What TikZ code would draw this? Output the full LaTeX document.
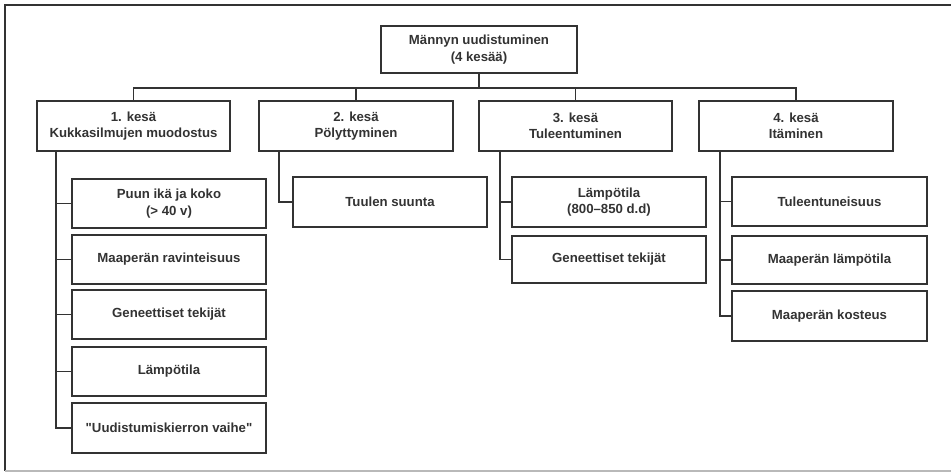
\documentclass[tikz,border=0pt]{standalone}
\usepackage{fontspec}
\setmainfont{Liberation Sans}[Ligatures=TeXOff]
\definecolor{ink}{HTML}{333333}
\tikzset{
  box/.style={draw=ink, line width=1.5pt, fill=white, inner sep=0pt, outer sep=0pt,
    align=center, text=ink, font=\fontsize{13.2}{16.5}\selectfont\bfseries},
  conn/.style={draw=ink, line width=1.5pt},
}
\newcommand{\bx}[7]{% name, x1, y1, x2, y2, text
  \node[box, minimum width={#4-#2}, minimum height={#5-#3}] (#1) at ({(#2+#4)/2},{(#3+#5)/2}) {#6};}
\begin{document}
\begin{tikzpicture}[x=1pt,y=-1pt]
\useasboundingbox (0,0) rectangle (951,473);
\draw[ink, line width=2pt] (955,5) -- (5,5) -- (5,471);
\draw[gray!55, line width=1.5pt] (5,471) -- (955,471);
\bx{root}{381}{26}{577}{73}{Männyn uudistuminen\\(4 kesää)}{}
\bx{b1}{37}{101}{230}{151}{1. kesä\\Kukkasilmujen muodostus}{}
\bx{b2}{259}{101}{453}{151}{2. kesä\\Pölyttyminen}{}
\bx{b3}{479}{101}{672}{151}{3. kesä\\Tuleentuminen}{}
\bx{b4}{699}{101}{893}{151}{4. kesä\\Itäminen}{}
\bx{c11}{72}{179}{266}{228}{Puun ikä ja koko\\(> 40 v)}{}
\bx{c12}{72}{235}{266}{284}{Maaperän ravinteisuus}{}
\bx{c13}{72}{290}{266}{339}{Geneettiset tekijät}{}
\bx{c14}{72}{347}{266}{396}{Lämpötila}{}
\bx{c15}{72}{403}{266}{453}{"Uudistumiskierron vaihe"}{}
\bx{c21}{293}{177}{487}{227}{Tuulen suunta}{}
\bx{c31}{512}{177}{706}{227}{Lämpötila\\(800–850 d.d)}{}
\bx{c32}{512}{236}{706}{283}{Geneettiset tekijät}{}
\bx{c41}{732}{177}{927}{226}{Tuleentuneisuus}{}
\bx{c42}{732}{236}{927}{284}{Maaperän lämpötila}{}
\bx{c43}{732}{291}{927}{341}{Maaperän kosteus}{}
\coordinate (bus) at (0,88);
\draw[conn] (root.south) -- (root.south |- bus);
\draw[conn] (b1.north) |- (b4.north |- bus) -- (b4.north);
\draw[conn] (b2.north) -- (b2.north |- bus);
\draw[conn] (b3.north) -- (b3.north |- bus);
\coordinate (s1) at ([xshift=19pt]b1.south west);
\coordinate (s2) at ([xshift=20pt]b2.south west);
\coordinate (s3) at ([xshift=21pt]b3.south west);
\coordinate (s4) at ([xshift=21pt]b4.south west);
\draw[conn] (s1) |- (c15.west);
\foreach \c in {c11,c12,c13,c14} \draw[conn] (\c.west) -- (\c.west -| s1);
\draw[conn] (s2) |- (c21.west);
\draw[conn] (s3) |- (c32.west);
\draw[conn] (c31.west) -- (c31.west -| s3);
\draw[conn] (s4) |- (c43.west);
\foreach \c in {c41,c42} \draw[conn] (\c.west) -- (\c.west -| s4);
\end{tikzpicture}
\end{document}
